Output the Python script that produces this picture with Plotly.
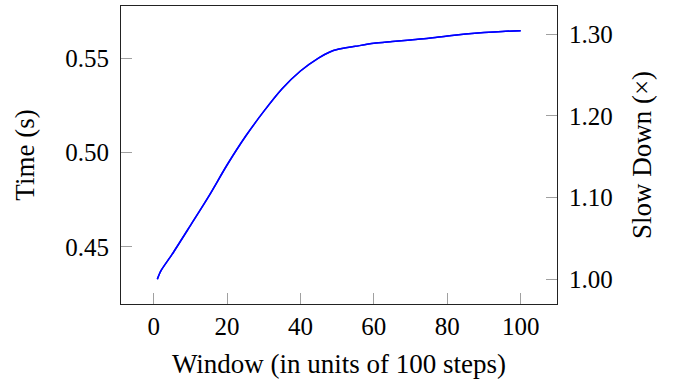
import plotly.graph_objects as go

window = [1, 2, 5, 10, 15, 20, 25, 30, 35, 40, 45, 48, 50, 55, 60, 65, 70, 75, 80, 85, 90, 95, 100]
time_s = [0.4329, 0.4374, 0.4460, 0.4613, 0.4768, 0.4934, 0.5085, 0.5218, 0.5338, 0.5432, 0.5502,
          0.5533, 0.5546, 0.5563, 0.5579, 0.5588, 0.5597, 0.5606, 0.5618, 0.5628, 0.5636, 0.5642, 0.5645]
slowdown = [t / time_s[0] for t in time_s]

left_ticks = [0.45, 0.50, 0.55]
right_ticks = [1.00, 1.10, 1.20, 1.30]
x_ticks = [0, 20, 40, 60, 80, 100]

def enlarge(vals, f=0.1):
    lo, hi = min(vals), max(vals)
    d = (hi - lo) * f
    return [lo - d, hi + d]

FONT = "Liberation Serif"
FS = 25
TFS = 27

fig = go.Figure()
fig.add_trace(go.Scatter(x=window, y=time_s, mode="lines",
                         line=dict(color="rgb(0,0,255)", width=1.5, shape="spline", smoothing=0.8),
                         showlegend=False))
fig.add_trace(go.Scatter(x=window, y=slowdown, mode="lines", yaxis="y2",
                         line=dict(color="rgb(0,0,255)", width=1.5, shape="spline", smoothing=0.8),
                         showlegend=False))

axis_common = dict(showgrid=False, zeroline=False, showline=True, linecolor="#222",
                   linewidth=1, ticks="inside", ticklen=11, tickwidth=1, automargin=False,
                   tickcolor="#a0a0a0", tickfont=dict(family=FONT, size=FS, color="black"))

fig.update_layout(
    width=677, height=379,
    margin=dict(l=121, r=120, t=6, b=75),
    paper_bgcolor="white", plot_bgcolor="white",
    font=dict(family=FONT, size=FS, color="black"),
    xaxis=dict(range=enlarge(window), tickvals=x_ticks, ticktext=[str(v) for v in x_ticks],
               title=dict(text="Window (in units of 100 steps)", standoff=21,
                          font=dict(family=FONT, size=TFS)),
               ticklabelstandoff=0, mirror=True, **axis_common),
    yaxis=dict(range=enlarge(time_s), tickvals=left_ticks,
               ticktext=[f"{v:.2f}" for v in left_ticks],
               title=dict(text="Time (s)", standoff=22, font=dict(family=FONT, size=TFS)),
               ticklabelstandoff=6, **axis_common),
    yaxis2=dict(range=enlarge(slowdown), tickvals=right_ticks,
                ticktext=[f"{v:.2f}" for v in right_ticks], overlaying="y", side="right",
                title=dict(text="Slow Down (×)", standoff=20, font=dict(family=FONT, size=TFS)),
                ticklabelstandoff=6, **axis_common),
)

fig.write_html("out.html")
